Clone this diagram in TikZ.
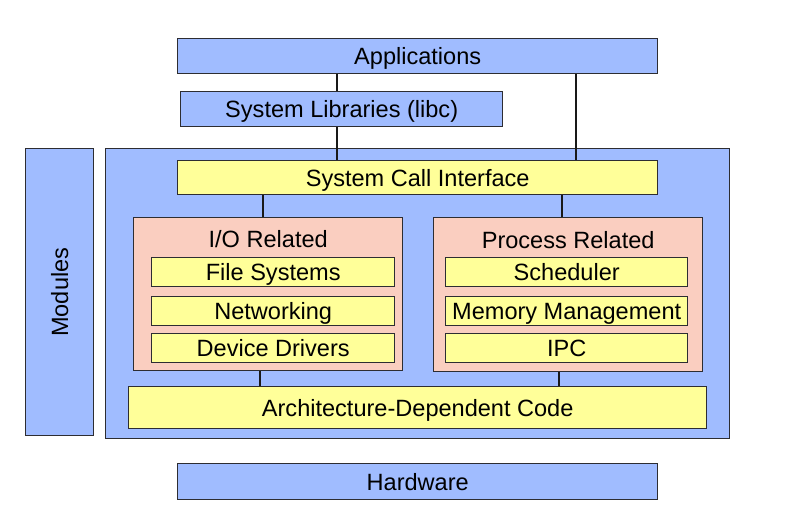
\documentclass[tikz,border=0pt]{standalone}
\usepackage{fontspec}
\setmainfont{Liberation Sans}
\usetikzlibrary{positioning}
\definecolor{layerblue}{RGB}{160,188,255}
\definecolor{partyellow}{RGB}{255,255,153}
\definecolor{groupsalmon}{RGB}{250,206,192}
\definecolor{edgegray}{RGB}{45,45,50}
\tikzset
{
	layerbox/.style = {rectangle, draw=edgegray, line width=0.8pt, fill=layerblue, anchor=north west, inner sep=0pt, text height=9.6pt, text depth=0pt, font=\fontsize{13.4}{16}\selectfont},
	partbox/.style  = {rectangle, draw=edgegray, line width=0.8pt, fill=partyellow, anchor=north west, inner sep=0pt, text height=9.6pt, text depth=0pt, font=\fontsize{13.4}{16}\selectfont},
	groupbox/.style = {rectangle, draw=edgegray, line width=0.8pt, fill=groupsalmon, anchor=north west, inner sep=0pt},
	grouptitle/.style = {inner sep=0pt, text height=9.6pt, text depth=0pt, font=\fontsize{13.4}{16}\selectfont},
	link/.style = {draw=black!90, line width=1.1pt}
}

\begin{document}
\begin{tikzpicture}
\useasboundingbox (0,0) rectangle (15.82,-10.54);
% user space
\node[layerbox, minimum width=9.6cm, minimum height=0.7cm] (apps) at (3.54,-0.76) {Applications};
\node[layerbox, minimum width=6.44cm, minimum height=0.7cm] (libc) at (3.6,-1.82) {System Libraries (libc)};
% kernel
\node[layerbox, minimum width=1.36cm, minimum height=5.74cm] (modules) at (0.5,-2.96) {};
\node[rotate=90, inner sep=0pt, text height=9.6pt, text depth=0pt, font=\fontsize{13.4}{16}\selectfont] (modtext) at (modules.center) {Modules};
\node[layerbox, minimum width=12.48cm, minimum height=5.8cm] (kernel) at (2.1,-2.96) {};
\node[partbox, minimum width=9.6cm, minimum height=0.68cm] (sci) at (3.54,-3.2) {System Call Interface};
\node[groupbox, minimum width=5.38cm, minimum height=3.06cm] (io) at (2.66,-4.34) {};
\node[grouptitle, below=7.5pt of io.north] (iotitle) {I/O Related};
\node[groupbox, minimum width=5.38cm, minimum height=3.08cm] (proc) at (8.66,-4.34) {};
\node[grouptitle, below=8pt of proc.north] (proctitle) {Process Related};
\node[partbox, minimum width=4.86cm, minimum height=0.58cm] (fs) at (3.02,-5.14) {File Systems};
\node[partbox, minimum width=4.86cm, minimum height=0.58cm] (net) at (3.02,-5.92) {Networking};
\node[partbox, minimum width=4.86cm, minimum height=0.58cm] (dd) at (3.02,-6.66) {Device Drivers};
\node[partbox, minimum width=4.84cm, minimum height=0.58cm] (sched) at (8.9,-5.14) {Scheduler};
\node[partbox, minimum width=4.84cm, minimum height=0.58cm] (mem) at (8.9,-5.92) {Memory Management};
\node[partbox, minimum width=4.84cm, minimum height=0.58cm] (ipc) at (8.9,-6.66) {IPC};
\node[partbox, minimum width=11.56cm, minimum height=0.84cm] (arch) at (2.56,-7.72) {Architecture-Dependent Code};
% hardware
\node[layerbox, minimum width=9.6cm, minimum height=0.72cm] (hw) at (3.54,-9.26) {Hardware};

% links
\coordinate (libcx) at (6.74,0);
\coordinate (trapx) at (11.52,0);
\coordinate (iox) at (5.26,0);
\coordinate (procx) at (11.24,0);
\coordinate (ioarchx) at (5.2,0);
\coordinate (procarchx) at (11.18,0);
\draw[link] (apps.south -| libcx) -- (libc.north -| libcx);
\draw[link] (libc.south -| libcx) -- (sci.north -| libcx);
\draw[link] (apps.south -| trapx) -- (sci.north -| trapx);
\draw[link] (sci.south -| iox) -- (io.north -| iox);
\draw[link] (sci.south -| procx) -- (proc.north -| procx);
\draw[link] (io.south -| ioarchx) -- (arch.north -| ioarchx);
\draw[link] (proc.south -| procarchx) -- (arch.north -| procarchx);
\end{tikzpicture}
\end{document}
